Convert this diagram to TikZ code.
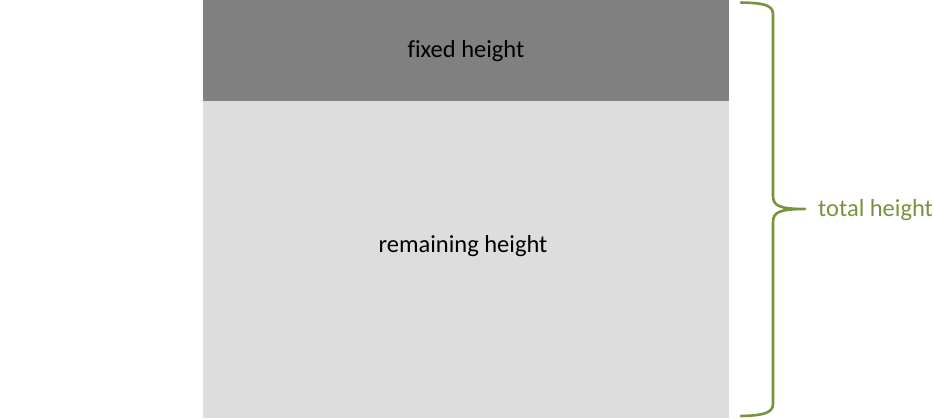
\documentclass[tikz,border=0pt]{standalone}
\usepackage{fontspec}
\setmainfont{Carlito}[Ligatures=NoCommon]
\definecolor{darkbox}{HTML}{808080}
\definecolor{lightbox}{HTML}{DDDDDD}
\definecolor{olive}{HTML}{77933C}
\begin{document}
\begin{tikzpicture}[x=1pt,y=-1pt,
  lbl/.style={font=\fontsize{24.5}{29}\selectfont, inner sep=0pt, anchor=center},
  brace/.style={draw=olive, line width=2.6pt, line cap=round, line join=round}]
\useasboundingbox (0,0) rectangle (933,418);
\fill[lightbox] (203,101) rectangle (729,418);
\fill[darkbox] (203,0) rectangle (729,101);
\node[lbl] (fixed) at (466,51) {fixed height};
\node[lbl] (remain) at (463,246) {remaining height};
\coordinate (tip) at (805,209);
\draw[brace] (741,2.5) .. controls (760,3) and (773,4) .. (773,14)
  -- (773,196) .. controls (773,206) and (780,209) .. (tip)
  .. controls (780,209) and (773,212) .. (773,222)
  -- (773,404) .. controls (773,414) and (760,415.5) .. (741,416);
\node[lbl, text=olive, anchor=west] (total) at (818,210) {total height};
\end{tikzpicture}
\end{document}
